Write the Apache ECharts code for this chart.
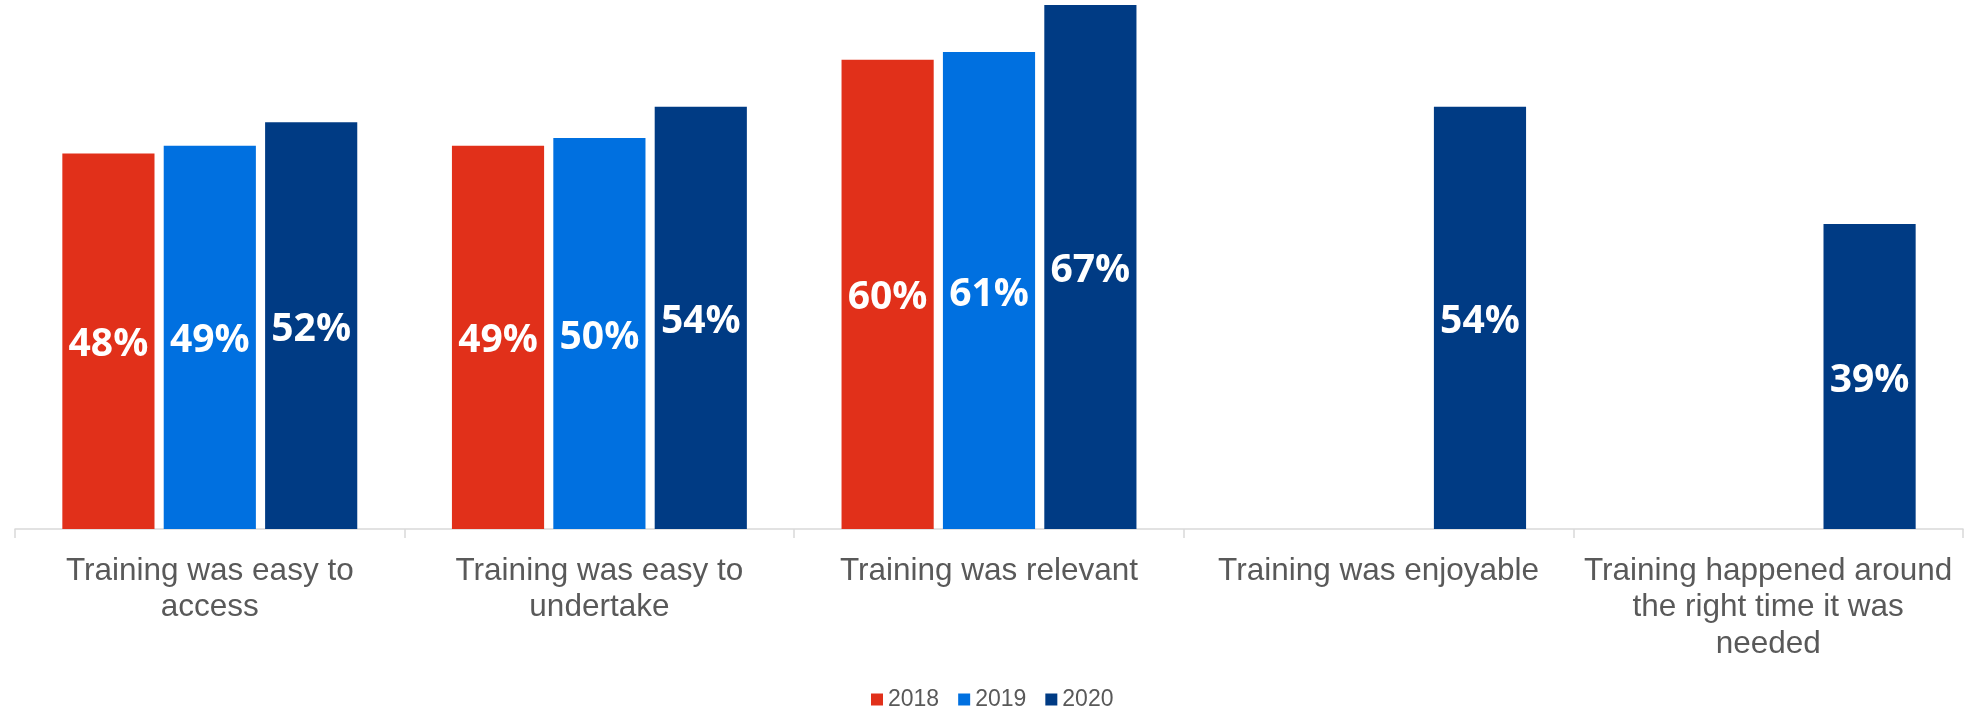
<!DOCTYPE html>
<html>
<head>
<meta charset="utf-8">
<script src="https://cdn.jsdelivr.net/npm/echarts@6/dist/echarts.min.js"></script>
<style>
  html, body { margin: 0; padding: 0; background: #ffffff; }
  #chart { width: 1964px; height: 710px; }
</style>
</head>
<body>
<div id="chart"></div>
<script>
// Survey statements (line breaks as they wrap under each group)
const categories = [
  'Training was easy to\naccess',
  'Training was easy to\nundertake',
  'Training was relevant',
  'Training was enjoyable',
  'Training happened around\nthe right time it was\nneeded'
];

// Share agreeing, in percent; null where the question was not asked
const values2018 = [48, 49, 60, null, null];
const values2019 = [49, 50, 61, null, null];
const values2020 = [52, 54, 67, 54, 39];

const seriesNames = ['2018', '2019', '2020'];
const seriesColors = ['#E1301A', '#0070E0', '#003B84'];

const chart = echarts.init(document.getElementById('chart'), null, { renderer: 'canvas' });

function makeSeries(name, data, color) {
  return {
    name: name,
    type: 'bar',
    data: data,
    itemStyle: { color: color },
    barGap: '10%',
    barCategoryGap: '24.3%',
    label: {
      show: true,
      position: 'inside',
      offset: [0, 4],
      formatter: '{c}%',
      color: '#ffffff',
      fontFamily: 'Open Sans',
      fontWeight: 700,
      fontSize: 39
    }
  };
}

chart.setOption({
  animation: false,
  backgroundColor: '#ffffff',
  grid: { left: 15, right: 1, top: 5, bottom: 181, containLabel: false },
  legend: {
    data: seriesNames,
    left: 866,
    top: 683,
    itemWidth: 12,
    itemHeight: 12,
    itemGap: 19,
    icon: 'rect',
    textStyle: { color: '#595959', fontFamily: 'Liberation Sans', fontSize: 23 }
  },
  xAxis: {
    type: 'category',
    data: categories,
    axisLine: { show: true, lineStyle: { color: '#D9D9D9', width: 1.5 } },
    axisTick: { show: true, length: 9, lineStyle: { color: '#D9D9D9', width: 1.5 } },
    axisLabel: {
      interval: 0,
      margin: 24,
      color: '#595959',
      fontFamily: 'Liberation Sans',
      fontSize: 31.5,
      lineHeight: 36.5,
      align: 'center'
    }
  },
  yAxis: {
    type: 'value',
    show: false,
    min: 0,
    max: 'dataMax',
    splitLine: { show: false }
  },
  series: [
    makeSeries(seriesNames[0], values2018, seriesColors[0]),
    makeSeries(seriesNames[1], values2019, seriesColors[1]),
    makeSeries(seriesNames[2], values2020, seriesColors[2])
  ]
});
</script>
</body>
</html>
